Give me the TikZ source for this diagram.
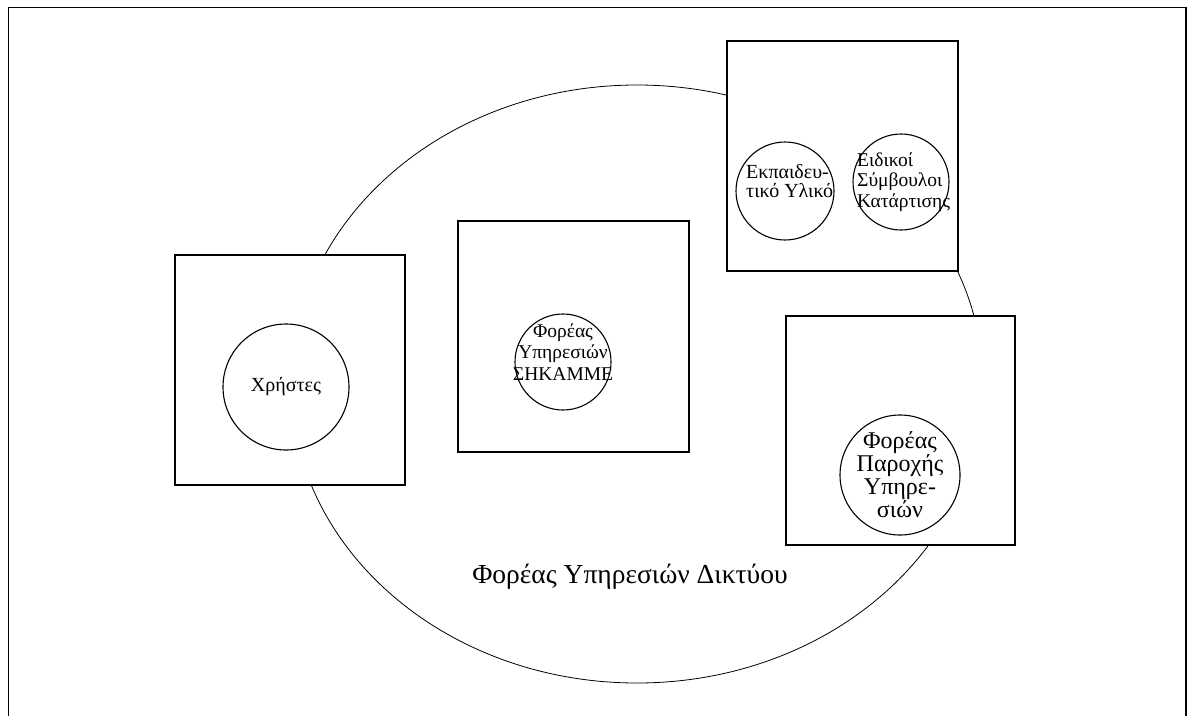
\documentclass[tikz,border=0pt]{standalone}
\usepackage{fontspec}
\setmainfont{Liberation Serif}
\usetikzlibrary{shapes.geometric}
\begin{document}
\begin{tikzpicture}[x=1pt,y=-1pt,
  frame/.style={line width=1.8pt},
  boxn/.style={draw,rectangle,fill=white,line width=1.6pt,inner sep=0pt},
  circ/.style={draw,circle,line width=1.1pt,inner sep=0pt},
  lbl/.style={inner sep=0pt,align=center}]
\useasboundingbox (0,0) rectangle (1193,715);
\draw[frame] (8.5,716) -- (8.5,7.5) -- (1186,7.5) -- (1186,716);
\node[draw,ellipse,line width=0.8pt,minimum width=692pt,minimum height=598pt,inner sep=0pt] (net) at (637,384) {};
\node[boxn,minimum width=230pt,minimum height=230pt] (b1) at (290,370) {};
\node[boxn,minimum width=231pt,minimum height=231pt] (b2) at (573.5,336.5) {};
\node[boxn,minimum width=231pt,minimum height=230pt] (b3) at (842.5,156) {};
\node[boxn,minimum width=229pt,minimum height=229pt] (b4) at (900.5,430.5) {};
\node[circ,minimum size=126pt] (c1) at (286,387) {};
\node[circ,minimum size=96pt] (c2) at (563,362) {};
\node[circ,minimum size=98pt] (c3) at (785,191) {};
\node[circ,minimum size=96pt] (c4) at (901,182) {};
\node[circ,minimum size=120pt] (c5) at (900,475) {};
\node[lbl,font=\fontsize{20}{24}\selectfont] (t1) at (c1) {Χρήστες};
\node[lbl,font=\fontsize{19.5}{21.5}\selectfont] (t2) at (563,352) {Φορέας\\Υπηρεσιών\\ΣΗΚΑΜΜΕ};
\node[lbl,align=left,anchor=west,font=\fontsize{20}{18.5}\selectfont] (t3) at (746,181) {Εκπαιδευ-\\τικό Υλικό};
\node[lbl,align=left,anchor=west,font=\fontsize{19.5}{20.5}\selectfont] (t4) at (857,182) {Ειδικοί\\Σύμβουλοι\\Κατάρτισης};
\node[lbl,font=\fontsize{24}{23}\selectfont] (t5) at (c5) {Φορέας\\Παροχής\\Υπηρε-\\σιών};
\node[lbl,font=\fontsize{27.5}{30}\selectfont] (t6) at (630,577) {Φορέας Υπηρεσιών Δικτύου};
\end{tikzpicture}
\end{document}
